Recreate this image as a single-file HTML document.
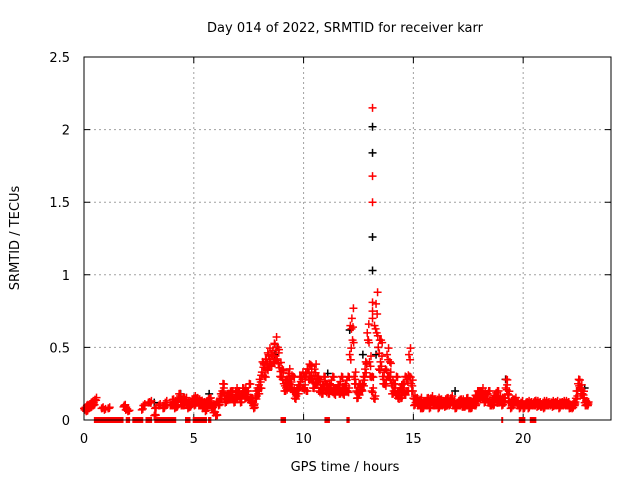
<!DOCTYPE html>
<html><head><meta charset="utf-8"><style>
body{margin:0;background:#fff;}
svg{display:block;font-family:"DejaVu Sans","Liberation Sans",sans-serif;}
</style></head><body>
<svg id="chart" width="640" height="480" xmlns="http://www.w3.org/2000/svg">
<rect width="640" height="480" fill="#fff"/>
<text x="345" y="32" font-size="13" text-anchor="middle">Day 014 of 2022, SRMTID for receiver karr</text>
<text x="345" y="471" font-size="13" text-anchor="middle">GPS time / hours</text>
<text transform="translate(19,238) rotate(-90)" font-size="13" text-anchor="middle">SRMTID / TECUs</text>
<g id="grid"></g>
<g id="ticks"></g>
<g id="marks"></g>
<rect x="84" y="57" width="527" height="363" fill="none" stroke="#000" stroke-width="1"/>
</svg>
<script>
const xTicks = [0,5,10,15,20];
const yTicks = [0,0.5,1,1.5,2,2.5];
const yTickLabels = ["0","0.5","1","1.5","2","2.5"];
const redA = [
.08,.06,.10,.09,.12,.14,null,null,.08,null,
null,.08,null,null,null,null,null,null,.09,.07,
.06,null,null,null,null,null,null,.10,null,null,
.12,null,.03,null,.10,null,.08,.12,null,null,
.10,.12,.09,.15,.13,.10,.14,.11,.09,.12,
.15,.12,.13,.10,.08,.10,.13,.12,.09,.05,
.03,.12,.15,.20,.15,.14,.18,.16,.14,.20,
.17,.15,.18,.20,.16,.14,.12,.10,.15,.22,
.28,.33,.38,.42,.45,.40,.48,.52,.42,.36,
.30,.25,.22,.32,.28,.20,.15,.22,.24,.30,
.22,.32,.35,.30,.28,.35,.26,.20,.22,.24,
.20,.22,.25,.20,.18,.22,.24,.20,.18,.25,
.20,.45,.70,.30,.20,.18,.22,.25,.35,.60,
.40,.20,.15,.80,.50,.40,.30,.25,.45,.30,
.25,.20,.18,.15,.22,.20,.18,.28,.45,.25,
.15,.12,.10,.14,.08,.12,.10,.13,.15,.10,
.12,.14,.10,.12,.13,.10,.12,.15,.10,.08,
.12,.10,.13,.09,.10,.12,.08,.12,.10,.14,
.15,.20,.18,.15,.12,.10,.14,.17,.12,.15,
.14,.12,.22,.18,.12,.10,.14,.12,.10,.12,
.08,.10,.12,.10,.11,.10,.12,.10,.09,.12,
.12,.10,.11,.12,.10,.12,.11,.10,.12,.12,
.10,.08,.10,.10,.15,.25,.22,.18,.12,.10];
const redB = [
.07,.10,.08,.12,.10,null,null,null,null,.07,
null,null,null,null,null,null,null,null,.10,null,
null,null,null,null,null,null,.07,null,null,.12,
null,null,.08,null,null,null,null,.10,null,.10,
.14,.08,.13,.18,.10,.15,.12,.08,.10,.14,
.10,.15,.10,.13,.12,.06,.10,.15,.08,.10,
.12,.10,.18,.25,.12,.18,.14,.20,.12,.15,
.20,.12,.22,.15,.20,.25,.15,.08,.20,.18,
.22,.40,.30,.35,.38,.45,.40,.42,.50,.30,
.35,.20,.28,.25,.22,.30,.20,.18,.30,.22,
.30,.20,.28,.38,.22,.25,.30,.28,.18,.30,
.25,.18,.20,.30,.22,.20,.18,.30,.22,.20,
.30,.65,.55,.25,.15,.25,.20,.30,.40,.55,
.30,.30,.65,.60,.35,.55,.25,.35,.30,.40,
.18,.25,.30,.20,.15,.25,.30,.20,.30,.20,
.10,.15,.12,.08,.12,.10,.15,.08,.12,.14,
.10,.08,.14,.10,.09,.15,.10,.12,.13,.10,
.10,.14,.09,.12,.15,.08,.12,.14,.17,.20,
.20,.15,.12,.18,.20,.12,.10,.15,.20,.12,
.10,.15,.28,.12,.08,.14,.12,.10,.08,.10,
.10,.12,.08,.12,.10,.13,.09,.12,.10,.08,
.10,.12,.10,.09,.12,.10,.08,.12,.10,.10,
.12,.10,.08,.12,.20,.28,.18,.15,.10,.12];
const spikeTime = 13.14;
const spikeRed = [2.15,1.68,1.5,0.81,0.75,0.7];
const spikeBlack = [2.02,1.84,1.26,1.03];
const blackT = [3.2,4.4,5.7,8.7,8.8,11.1,12.1,12.7,13.3,13.4,16.9,19.2,22.8];
const blackV = [.12,.18,.18,.45,.5,.32,.62,.45,.45,.5,.2,.28,.22];
const zeroStart = [0.45,1.9,2.2,2.8,3.2,4.6,4.95,5.65,8.95,10.95,11.95,19.0,19.8,20.3];
const zeroEnd =   [1.8,2.1,2.7,3.1,4.2,4.85,5.6,5.8,9.2,11.2,12.1,19.05,20.1,20.6];
const step = 0.1;

const NS = "http://www.w3.org/2000/svg";
const X0=84, X1=611, Y0=420, Y1=57, XMAX=24, YMAX=2.5;
function xs(v){return X0 + v/XMAX*(X1-X0);}
function ys(v){return Y0 - v/YMAX*(Y0-Y1);}
function mk(tag, attrs, parent){const e=document.createElementNS(NS,tag);for(const k in attrs)e.setAttribute(k,attrs[k]);parent.appendChild(e);return e;}
const grid=document.getElementById('grid'), ticks=document.getElementById('ticks'), marks=document.getElementById('marks');
xTicks.forEach(t=>{
  const x=xs(t);
  if(t>0){const g=mk('line',{x1:x,x2:x,y1:Y1,y2:Y0,stroke:'#a0a0a0','stroke-dasharray':'2,3'},grid);
  
  }
  const tk=mk('path',{d:`M${x},${Y0}v-6M${x},${Y1}v6`,stroke:'#000'},ticks);
  
  
  const l=mk('text',{x:x,y:443,'font-size':'13','text-anchor':'middle'},ticks);l.textContent=t;
  
  
});
yTicks.forEach((t,i)=>{
  const y=ys(t);
  if(t>0&&t<YMAX){const g=mk('line',{x1:X0,x2:X1,y1:y,y2:y,stroke:'#a0a0a0','stroke-dasharray':'2,3'},grid);
  
  }
  const tk=mk('path',{d:`M${X0},${y}h6M${X1},${y}h-6`,stroke:'#000'},ticks);
  
  
  const l=mk('text',{x:70,y:y+5,'font-size':'13','text-anchor':'end'},ticks);l.textContent=yTickLabels[i];
  
  
});
function plus(t,v,color){
  const x=xs(t), y=ys(v);
  const p=mk('path',{d:`M${x-4},${y}h8M${x},${y-4}v8`,stroke:color,'stroke-width':'1.5',fill:'none'},marks);
  
  
}
blackT.forEach((t,i)=>plus(t,blackV[i],'#000'));
spikeBlack.forEach(v=>plus(spikeTime,v,'#000'));
redA.forEach((v,i)=>{if(v!==null){plus(i*step,v,'#f00');plus(i*step+0.05,v*0.9+0.01,'#f00');plus(i*step+0.07,v*1.1,'#f00');}});
redB.forEach((v,i)=>{if(v!==null){plus(i*step+0.03,v,'#f00');plus(i*step+0.08,v*0.95+0.01,'#f00');}});
spikeRed.forEach(v=>plus(spikeTime,v,'#f00'));
zeroStart.forEach((s,i)=>{
  const x=xs(s), w=Math.max(2,xs(zeroEnd[i])-x);
  const r=mk('rect',{x:x,y:Y0-3,width:w,height:6,fill:'#f00'},marks);
  
  
});
</script>
</body></html>
